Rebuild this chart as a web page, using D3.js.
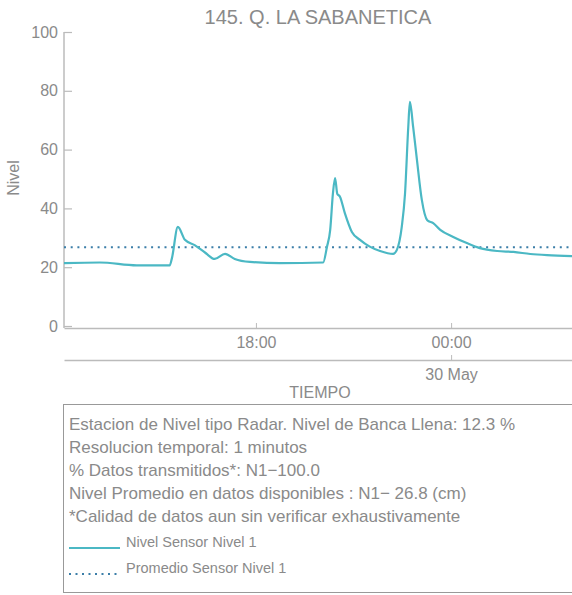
<!DOCTYPE html>
<html>
<head>
<meta charset="utf-8">
<script src="https://cdn.jsdelivr.net/npm/d3@7"></script>
<style>
	body { margin: 0; background: #fff; }
	svg { font-family: "Liberation Sans", Arial, sans-serif; }
</style>
</head>
<body>
<div id="chart"></div>
<script>
// series (time, nivel)
const times = [
	'05-29 12:06', '05-29 13:12', '05-29 14:20', '05-29 15:21', '05-29 15:25', '05-29 15:36',
	'05-29 15:49', '05-29 16:07', '05-29 16:26', '05-29 16:44', '05-29 17:03', '05-29 17:21',
	'05-29 17:49', '05-29 18:44', '05-29 20:04', '05-29 20:11', '05-29 20:17', '05-29 20:22',
	'05-29 20:26', '05-29 20:30', '05-29 20:35', '05-29 20:44', '05-29 20:57', '05-29 21:12',
	'05-29 21:30', '05-29 21:49', '05-29 22:13', '05-29 22:20', '05-29 22:29', '05-29 22:35',
	'05-29 22:41', '05-29 22:44', '05-29 22:50', '05-29 22:57', '05-29 23:06', '05-29 23:16',
	'05-29 23:27', '05-29 23:40', '05-30 00:04', '05-30 00:29', '05-30 00:53', '05-30 01:25',
	'05-30 01:55', '05-30 02:26', '05-30 02:57', '05-30 03:43',
]
const nivel = [
	21.4, 21.6, 20.6, 20.6, 23.0, 33.7,
	29.3, 27.5, 25.0, 22.8, 24.5, 22.8,
	21.8, 21.4, 21.6, 26.9, 32.7, 45.0,
	50.3, 45.0, 44.0, 38.4, 32.0, 29.3,
	27.0, 25.5, 24.5, 25.9, 33.7, 45.0,
	67.7, 76.2, 67.7, 56.5, 42.9, 36.0,
	35.0, 32.7, 30.3, 28.2, 26.5, 25.5,
	25.2, 24.5, 24.1, 23.8,
]
const promedio = 26.8
const yTicks = [0, 20, 40, 60, 80, 100]
const hourTicks = ['05-29 18:00', '05-30 00:00']
const dayTicks = ['05-30 00:00']
const infoLines = [
	'Estacion de Nivel tipo Radar. Nivel de Banca Llena: 12.3 %',
	'Resolucion temporal: 1 minutos',
	'% Datos transmitidos*: N1\u2212100.0',
	'Nivel Promedio en datos disponibles : N1\u2212 26.8 (cm)',
	'*Calidad de datos aun sin verificar exhaustivamente',
]
const legendItems = ['Nivel Sensor Nivel 1', 'Promedio Sensor Nivel 1']

const width = 572
const height = 595
const lineColor = '#4bb8c4'
const meanColor = '#3b7ea8'
const axisColor = '#bbb'
const textColor = '#8a8a8a'
const font = '"Liberation Sans", Arial, sans-serif'

const parse = d3.timeParse('%m-%d %H:%M')
const data = times.map((t, i) => ({ t: parse(t), v: nivel[i] }))

const svg = d3.select('#chart').append('svg')
	.attr('width', width)
	.attr('height', height)

const x = d3.scaleTime()
	.domain(d3.extent(data, d => d.t))
	.range([64, 572])

const y = d3.scaleLinear()
	.domain([0, 100])
	.range([326, 32])

// title
svg.append('text')
	.attr('x', 318).attr('y', 24)
	.attr('text-anchor', 'middle')
	.attr('font-size', 20)
	.attr('fill', textColor)
	.text('145. Q. LA SABANETICA')

// y axis, ticks pointing inward
const yAxis = svg.append('g')
	.attr('transform', 'translate(64,0)')
	.call(d3.axisRight(y).tickValues(yTicks).tickSize(8).tickSizeOuter(0))
yAxis.select('.domain').attr('stroke', axisColor).attr('stroke-width', 1.5)
	.attr('d', `M0,${y(100)}V328`)
yAxis.selectAll('.tick line').attr('stroke', axisColor).attr('stroke-width', 1.2)
yAxis.selectAll('.tick text')
	.attr('x', -6).attr('text-anchor', 'end')
	.attr('fill', textColor).attr('font-size', 16)
	.attr('font-family', font)

svg.append('text')
	.attr('transform', 'translate(19,178) rotate(-90)')
	.attr('text-anchor', 'middle')
	.attr('font-size', 16)
	.attr('fill', textColor)
	.text('Nivel')

// x axis: hours
const xAxis = svg.append('g')
	.attr('transform', 'translate(0,328)')
	.call(d3.axisBottom(x).tickValues(hourTicks.map(parse)).tickFormat(d3.timeFormat('%H:%M'))
		.tickSize(-5).tickSizeOuter(0).tickPadding(9))
xAxis.select('.domain').attr('stroke', axisColor).attr('stroke-width', 1.5)
xAxis.selectAll('.tick line').attr('stroke', axisColor)
xAxis.selectAll('.tick text').attr('fill', textColor).attr('font-size', 16)
	.attr('font-family', font)

// x axis: days
const dayAxis = svg.append('g')
	.attr('transform', 'translate(0,360)')
	.call(d3.axisBottom(x).tickValues(dayTicks.map(parse)).tickFormat(d3.timeFormat('%d %b'))
		.tickSize(-5).tickSizeOuter(0).tickPadding(9))
dayAxis.select('.domain').attr('stroke', axisColor).attr('stroke-width', 1.5)
dayAxis.selectAll('.tick line').attr('stroke', axisColor)
dayAxis.selectAll('.tick text').attr('fill', textColor).attr('font-size', 16)
	.attr('font-family', font)

svg.append('text')
	.attr('x', 320).attr('y', 398)
	.attr('text-anchor', 'middle')
	.attr('font-size', 16)
	.attr('fill', textColor)
	.text('TIEMPO')

// mean line
svg.append('line')
	.attr('x1', 64).attr('x2', 572)
	.attr('y1', y(promedio)).attr('y2', y(promedio))
	.attr('stroke', meanColor)
	.attr('stroke-width', 2)
	.attr('stroke-dasharray', '2,4.7')

// level line
const line = d3.line()
	.x(d => x(d.t))
	.y(d => y(d.v))
	.curve(d3.curveMonotoneX)

svg.append('path')
	.datum(data)
	.attr('fill', 'none')
	.attr('stroke', lineColor)
	.attr('stroke-width', 2.2)
	.attr('d', line)

// info box
svg.append('rect')
	.attr('x', 63.5).attr('y', 404.5)
	.attr('width', 520).attr('height', 188)
	.attr('fill', 'none')
	.attr('stroke', '#999')

svg.selectAll('text.info')
	.data(infoLines)
	.enter().append('text')
	.attr('class', 'info')
	.attr('x', 69)
	.attr('y', (d, i) => 430 + i * 23)
	.attr('font-size', 17)
	.attr('fill', textColor)
	.text(d => d)

const legend = svg.selectAll('g.legend')
	.data(legendItems)
	.enter().append('g')
	.attr('class', 'legend')
	.attr('transform', (d, i) => `translate(0,${548 + i * 26})`)

legend.append('line')
	.attr('x1', 69).attr('x2', 120)
	.attr('stroke', (d, i) => i === 0 ? lineColor : meanColor)
	.attr('stroke-width', 2)
	.attr('stroke-dasharray', (d, i) => i === 0 ? null : '2,4.5')

legend.append('text')
	.attr('x', 126).attr('y', -1)
	.attr('font-size', 14.5)
	.attr('fill', textColor)
	.text(d => d)
</script>
</body>
</html>
